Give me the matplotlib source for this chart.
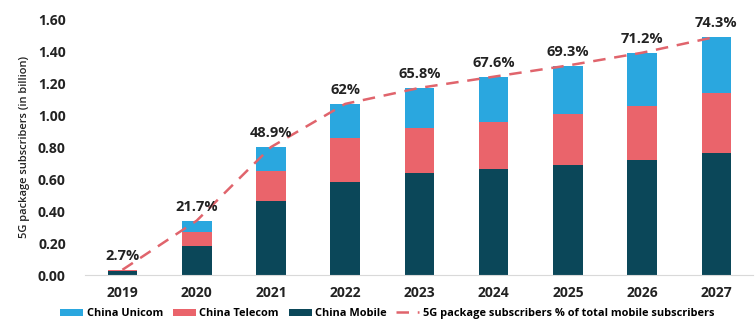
import matplotlib
matplotlib.use('Agg')
import matplotlib.pyplot as plt
import numpy as np

years = ['2019', '2020', '2021', '2022', '2023', '2024', '2025', '2026', '2027']
china_mobile = [0.025, 0.18, 0.46, 0.58, 0.64, 0.665, 0.69, 0.72, 0.765]
china_telecom = [0.005, 0.09, 0.19, 0.275, 0.28, 0.295, 0.32, 0.34, 0.375]
china_unicom = [0.003, 0.07, 0.15, 0.215, 0.25, 0.28, 0.30, 0.33, 0.35]
pct_labels = ['2.7%', '21.7%', '48.9%', '62%', '65.8%', '67.6%', '69.3%', '71.2%', '74.3%']

c_mobile = '#0b4759'
c_telecom = '#ea646b'
c_unicom = '#2aa7df'
c_line = '#e0646c'

plt.rcParams['font.family'] = ['Open Sans', 'DejaVu Sans']

fig = plt.figure(figsize=(7.55, 3.24), dpi=100)
ax = fig.add_axes([0.113, 0.151, 0.885, 0.79])

x = np.arange(len(years))
width = 0.4
mob = np.array(china_mobile)
tel = np.array(china_telecom)
uni = np.array(china_unicom)

b_uni = ax.bar(x, uni, width, bottom=mob + tel, color=c_unicom, label='China Unicom', zorder=2)
b_tel = ax.bar(x, tel, width, bottom=mob, color=c_telecom, label='China Telecom', zorder=2)
b_mob = ax.bar(x, mob, width, color=c_mobile, label='China Mobile', zorder=2)

totals = mob + tel + uni
ln, = ax.plot(x, totals, color=c_line, linestyle=(0, (5, 3.5)), linewidth=1.8,
              label='5G package subscribers % of total mobile subscribers', zorder=3)

for i, lbl in enumerate(pct_labels):
    ax.annotate(lbl, (x[i], totals[i]), xytext=(0, 5), textcoords='offset points',
                ha='center', va='bottom', fontsize=10.5, fontweight='bold', color='#222222')

ax.set_xlim(-0.5, len(years) - 0.5)
ax.set_ylim(0, 1.6)
ax.set_yticks(np.arange(0, 1.61, 0.2))
ax.set_yticklabels([f'{v:.2f}' for v in np.arange(0, 1.61, 0.2)])
ax.set_xticks(x)
ax.set_xticklabels(years)
ax.tick_params(axis='both', length=0, labelsize=10, colors='#222222')
ax.tick_params(axis='y', pad=14)
ax.tick_params(axis='x', pad=8)
for t in ax.get_xticklabels() + ax.get_yticklabels():
    t.set_fontweight('bold')

for s in ['top', 'right', 'left']:
    ax.spines[s].set_visible(False)
ax.spines['bottom'].set_color('#d9d9d9')

ax.set_ylabel('5G package subscribers (in billion)', fontsize=8, color='#222222',
              labelpad=6, fontweight='semibold')

fig.legend([b_uni, b_tel, b_mob, ln],
           ['China Unicom', 'China Telecom', 'China Mobile',
            '5G package subscribers % of total mobile subscribers'],
           loc='lower center', bbox_to_anchor=(0.513, -0.015), ncol=4, frameon=False,
           handlelength=2.1, handleheight=0.6, columnspacing=0.9,
           handletextpad=0.3, prop={'weight': 'bold', 'size': 7.9})

plt.savefig('out.png', dpi=100)
